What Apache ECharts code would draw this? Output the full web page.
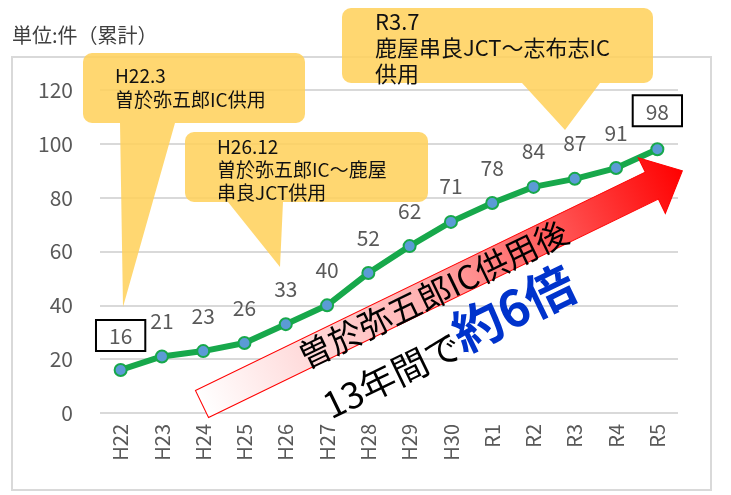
<!DOCTYPE html>
<html>
<head>
<meta charset="utf-8">
<script src="https://cdn.jsdelivr.net/npm/echarts@6/dist/echarts.min.js"></script>
<style>
  html, body { margin: 0; padding: 0; background: #fff; }
  #main { width: 731px; height: 495px; }
</style>
</head>
<body>
<div id="main"></div>
<script>
// 累計件数
var years = ['H22', 'H23', 'H24', 'H25', 'H26', 'H27', 'H28', 'H29', 'H30', 'R1', 'R2', 'R3', 'R4', 'R5'];
var counts = [16, 21, 23, 26, 33, 40, 52, 62, 71, 78, 84, 87, 91, 98];
var boxedIdx = [0, 13];

var chart = echarts.init(document.getElementById('main'));
var FONT = '"Noto Sans CJK JP", "Noto Sans", sans-serif';

var seriesData = counts.map(function (v, i) {
    if (boxedIdx.indexOf(i) < 0) return v;
    return {
        value: v,
        label: {
            borderColor: '#000',
            borderWidth: 2,
            padding: [6, 13, 4, 13],
            distance: i == 0 ? 12 : 16
        }
    };
});

// 角の丸め用
function corner(pts, cx, cy, r, a0) {
    for (var k = 0; k <= 4; k++) {
        var a = (a0 + k * 22.5) * Math.PI / 180;
        pts.push([cx + r * Math.cos(a), cy + r * Math.sin(a)]);
    }
}

// 吹き出し (角丸 + しっぽ)
function balloon(x, y, w, h, t1, t2, tx, ty) {
    var r = 9, b = y + h, rt = x + w, pts = [];
    corner(pts, rt - r, y + r, r, 270);
    corner(pts, rt - r, b - r, r, 0);
    pts.push([t2, b], [tx, ty], [t1, b]);
    corner(pts, x + r, b - r, r, 90);
    corner(pts, x + r, y + r, r, 180);
    return {
        type: 'polygon',
        z: 1,
        silent: true,
        shape: { points: pts },
        style: { fill: 'rgba(255,208,88,0.85)' }
    };
}

function note(x, y, text, size, lh) {
    return {
        type: 'text',
        z: 2,
        x: x,
        y: y,
        style: { text: text, fontSize: size, lineHeight: lh, fill: '#111', fontFamily: FONT }
    };
}

// 矢印
var arrowLen = 534, headLen = 34, shaftW = 15, headW = 31;
var arrow = {
    type: 'group',
    x: 202,
    y: 404,
    rotation: 25.9 * Math.PI / 180,
    z: 10,
    children: [{
        type: 'polygon',
        z: 10,
        shape: {
            points: [[0, -shaftW], [arrowLen - headLen, -shaftW], [arrowLen - headLen, -headW], [arrowLen, 0],
                [arrowLen - headLen, headW], [arrowLen - headLen, shaftW], [0, shaftW]]
        },
        style: {
            fill: {
                type: 'linear', x: 0, y: 0, x2: 1, y2: 0,
                colorStops: [
                    { offset: 0, color: '#ffffff' },
                    { offset: 0.45, color: '#ffb3b3' },
                    { offset: 1, color: '#ff0000' }
                ]
            },
            stroke: '#ff0000',
            lineWidth: 1
        }
    }, {
        type: 'text',
        z: 11,
        x: 256,
        y: 2,
        style: {
            text: '曽於弥五郎IC供用後', fontSize: 33, fill: '#000', fontFamily: FONT,
            align: 'center', verticalAlign: 'middle'
        }
    }, {
        type: 'text',
        z: 11,
        x: 248,
        y: 50,
        style: {
            text: '{a|13年間で}{b|約6倍}',
            align: 'center',
            verticalAlign: 'middle',
            fontFamily: FONT,
            rich: {
                a: { fontSize: 36, fill: '#000', fontFamily: FONT, verticalAlign: 'bottom' },
                b: { fontSize: 50, fill: '#0033cc', fontWeight: 'bold', fontFamily: FONT, verticalAlign: 'bottom' }
            }
        }
    }]
};

var option = {
    animation: false,
    textStyle: { fontFamily: FONT },
    grid: { left: 100, right: 53, top: 90, bottom: 82 },
    xAxis: {
        type: 'category',
        data: years,
        axisLine: { show: false },
        axisTick: { show: false },
        axisLabel: { rotate: 90, fontSize: 20, color: '#595959', margin: 11 }
    },
    yAxis: {
        type: 'value',
        min: 0,
        max: 120,
        interval: 20,
        axisLabel: { fontSize: 21, color: '#595959', margin: 27 },
        splitLine: { lineStyle: { color: '#d9d9d9', width: 2 } }
    },
    series: [{
        type: 'line',
        data: seriesData,
        z: 3,
        symbol: 'circle',
        symbolSize: 12,
        lineStyle: { color: '#17a84b', width: 6 },
        itemStyle: { color: '#5b9bd5', borderColor: '#17a84b', borderWidth: 2 },
        label: { show: true, position: 'top', distance: 18, fontSize: 21, color: '#595959' }
    }],
    graphic: [
        {
            type: 'rect', z: 0, silent: true,
            shape: { x: 12, y: 57, width: 699, height: 433 },
            style: { fill: 'none', stroke: '#d9d9d9', lineWidth: 2 }
        },
        {
            type: 'text', x: 12, y: 25, z: 2,
            style: { text: '単位:件（累計）', fontSize: 20, fill: '#404040', fontFamily: FONT }
        },
        balloon(83, 53, 222, 70, 120, 175, 123, 307),
        note(115, 64, 'H22.3\n曽於弥五郎IC供用', 19, 24),
        balloon(185, 132, 243, 70, 228, 283, 280, 267),
        note(217, 135, 'H26.12\n曽於弥五郎IC～鹿屋\n串良JCT供用', 19, 23),
        balloon(342, 8, 311, 75, 522, 600, 565, 130),
        note(375, 9, 'R3.7\n鹿屋串良JCT～志布志IC\n供用', 22, 26),
        arrow
    ]
};

chart.setOption(option);
</script>
</body>
</html>
